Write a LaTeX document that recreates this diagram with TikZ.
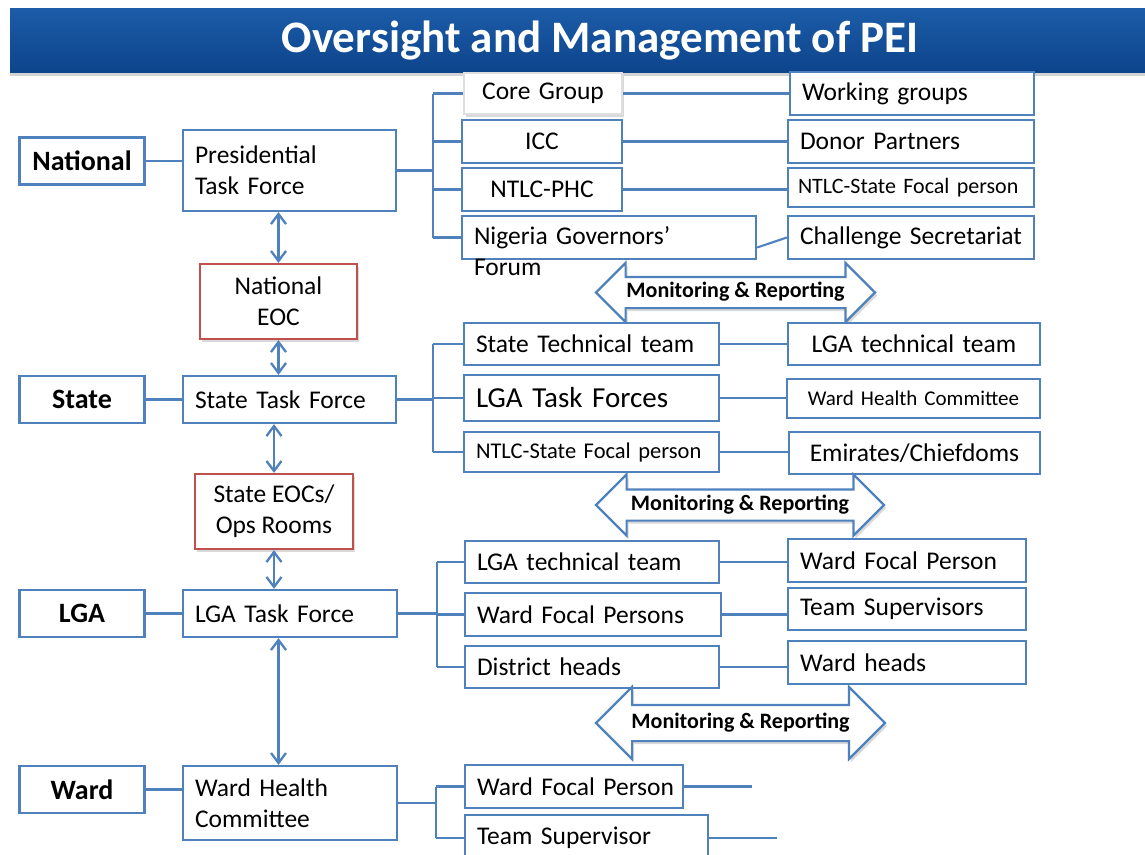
\documentclass[tikz,border=0pt]{standalone}
\usepackage{fontspec}
\setmainfont{Carlito}
\usetikzlibrary{shapes,arrows,arrows.meta,shadows}

\definecolor{ocblue}{RGB}{79,129,189}
\definecolor{eocred}{RGB}{192,80,77}
\definecolor{bartop}{RGB}{28,92,168}
\definecolor{barbot}{RGB}{13,68,140}

\tikzstyle{tier} = [rectangle, draw=ocblue, line width=2.3pt, fill=white, inner sep=0, minimum width=125, minimum height=47, font=\fontsize{28}{32}\selectfont\bfseries]
\tikzstyle{block} = [rectangle, draw=ocblue, line width=2.3pt, fill=white, inner xsep=12, inner ysep=0, align=left, font=\fontsize{25.5}{31}\selectfont]
\tikzstyle{eoc} = [rectangle, draw=eocred, line width=2.3pt, fill=white, inner sep=0, align=center, font=\fontsize{25.5}{31}\selectfont, drop shadow={opacity=0.3, shadow xshift=2pt, shadow yshift=-3pt}]
\tikzstyle{mrarrow} = [double arrow, draw=ocblue, line width=2.2pt, fill=white, inner xsep=0, inner ysep=4.5, text height=15, text depth=5, font=\fontsize{22}{26}\selectfont\bfseries, drop shadow={opacity=0.3, shadow xshift=2pt, shadow yshift=-3pt}]
\tikzstyle{line} = [draw=ocblue, line width=2.1pt]
\tikzstyle{dline} = [draw=ocblue, line width=2.3pt, <->, >={Straight Barb[length=10pt,width=15pt]}]

\begin{document}
\begin{tikzpicture}[x=1pt, y=-1pt]
\useasboundingbox (0,0) rectangle (1145,854);
\clip (0,0) rectangle (1145,854);

\path [top color=bartop, bottom color=barbot, drop shadow={opacity=0.35, shadow xshift=0pt, shadow yshift=-4pt}] (10,8) rectangle (1150,72);
\node [text=white, font=\fontsize{45}{50}\selectfont\bfseries] (title) at (600,41) {Oversight and Management of PEI};

\node [tier] (national) at (82,161) {National};
\node [tier] (state) at (82,399.5) {State};
\node [tier] (lga) at (82,613.5) {LGA};
\node [tier] (ward) at (82,789.5) {Ward};

\node [block, text width=189, minimum height=81] (ptf) at (289.5,170.5) {Presidential\\Task Force};
\node [block, text width=189, minimum height=47] (stf) at (289.5,399.5) {State Task Force};
\node [block, text width=190, minimum height=47] (ltf) at (290,613.5) {LGA Task Force};
\node [block, text width=190, minimum height=74] (whc) at (290,803) {Ward Health\\Committee};

\node [eoc, minimum width=157, minimum height=75] (neoc) at (278.5,301.5) {National\\EOC};
\node [eoc, minimum width=158, minimum height=75] (seoc) at (274,511.5) {State EOCs/\\Ops Rooms};

% national level
\node [block, draw=gray!25, align=center, text width=134, minimum height=41, drop shadow={opacity=0.3, shadow xshift=2pt, shadow yshift=-3pt}] (core) at (543,93.5) {Core Group};
\node [block, align=center, text width=136, minimum height=43] (icc) at (542,141.5) {ICC};
\node [block, align=center, text width=136, minimum height=43] (phc) at (542,189.5) {NTLC-PHC};
\node [block, text width=270, minimum height=43, text height=19, text depth=6] (ngf) at (609,237.5) {Nigeria Governors’\\Forum};

\node [block, text width=220, minimum height=43] (wg) at (912,93.5) {Working groups};
\node [block, text width=222, minimum height=43] (donor) at (911,141.5) {Donor Partners};
\node [block, text width=226, inner xsep=10, minimum height=39, font=\fontsize{22}{25}\selectfont] (nsfp1) at (911,187.5) {NTLC-State Focal person};
\node [block, text width=222, minimum height=43] (chal) at (911,237.5) {Challenge Secretariat};

\node [mrarrow, minimum height=279, double arrow head extend=14] (mr1) at (735.5,292.5) {Monitoring \& Reporting};

% state level
\node [block, text width=231, minimum height=42] (stt) at (591.5,344) {State Technical team};
\node [block, text width=231, minimum height=46, font=\fontsize{29}{34}\selectfont] (ltfs) at (591.5,398) {LGA Task Forces};
\node [block, text width=231, minimum height=40, font=\fontsize{22.5}{25}\selectfont] (nsfp2) at (591.5,452) {NTLC-State Focal person};

\node [block, align=center, text width=228, minimum height=42] (ltt) at (914,344) {LGA technical team};
\node [block, align=center, text width=229, minimum height=39, font=\fontsize{21}{25}\selectfont] (whc2) at (913.5,398.5) {Ward Health Committee};
\node [block, align=center, text width=227, minimum height=42] (emir) at (914.5,453) {Emirates/Chiefdoms};

\node [mrarrow, minimum height=288, double arrow head extend=15] (mr2) at (740,505) {Monitoring \& Reporting};

% LGA level
\node [block, text width=230, minimum height=42] (ltt2) at (592,562) {LGA technical team};
\node [block, text width=232, minimum height=43] (wfps) at (593,614.5) {Ward Focal Persons};
\node [block, text width=230, minimum height=42] (dh) at (592,667) {District heads};

\node [block, text width=214, minimum height=43] (wfp) at (907,560.5) {Ward Focal Person};
\node [block, text width=214, minimum height=42] (ts) at (907,609) {Team Supervisors};
\node [block, text width=214, minimum height=43] (wh) at (907,662.5) {Ward heads};

\node [mrarrow, minimum height=289, inner ysep=7, double arrow head extend=18] (mr3) at (740.5,723) {Monitoring \& Reporting};

% ward level
\node [block, inner xsep=6, text width=206, minimum height=43] (wfp2) at (574,786.5) {\hspace{6pt}Ward Focal Person};
\node [block, text width=219, minimum height=46] (tsup) at (586.5,838) {Team Supervisor};
\coordinate (wfpend) at (752,786.5);
\coordinate (tsupend) at (777,838);

\coordinate (bus1) at (433,0);
\coordinate (bus2) at (433,0);
\coordinate (bus3) at (437,0);
\coordinate (bus4) at (436,0);

\foreach \a/\b in {national/ptf, state/stf, lga/ltf, ward/whc}
  \path [line] (\a) -- (\a -| \b.west);

\path [dline] (neoc |- ptf.south) -- (neoc);
\path [dline] (neoc) -- (neoc |- stf.north);
\path [dline] (seoc |- stf.south) -- (seoc);
\path [dline] (seoc) -- (seoc |- ltf.north);
\path [dline] (neoc |- ltf.south) -- (neoc |- whc.north);

\path [line] (ptf) -- (ptf -| bus1);
\path [line] (bus1 |- core) -- (bus1 |- ngf);
\path [line] (stf) -- (stf -| bus2);
\path [line] (bus2 |- stt) -- (bus2 |- nsfp2);
\path [line] (ltf) -- (ltf -| bus3);
\path [line] (bus3 |- ltt2) -- (bus3 |- dh);
\path [line] (whc) -- (whc -| bus4);
\path [line] (bus4 |- wfp2) -- (bus4 |- tsup);

\foreach \n/\b in {core/bus1, icc/bus1, phc/bus1, ngf/bus1, stt/bus2, ltfs/bus2, nsfp2/bus2, ltt2/bus3, wfps/bus3, dh/bus3, wfp2/bus4, tsup/bus4}
  \path [line] (\b |- \n) -- (\n.west);

\foreach \a/\b in {core/wg, icc/donor, phc/nsfp1, stt/ltt, ltfs/whc2, nsfp2/emir, ltt2/wfp, wfps/ts, dh/wh}
  \path [line] (\a) -- (\a -| \b.west);
\path [line] ([yshift=-10pt]ngf.east) -- (chal.west);
\path [line] (wfp2) -- (wfpend);
\path [line] (tsup) -- (tsupend);

\end{tikzpicture}
\end{document}
